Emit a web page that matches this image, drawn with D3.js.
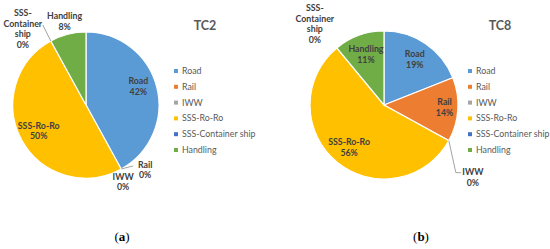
<!DOCTYPE html>
<html>
<head>
<meta charset="utf-8">
<script src="https://cdn.jsdelivr.net/npm/d3@7"></script>
<style>
  body { margin: 0; background: #fff; }
  svg { display: block; }
</style>
</head>
<body>
<div id="chart"></div>
<script>
// Data
const categories = ["Road", "Rail", "IWW", "SSS-Ro-Ro", "SSS-Container ship", "Handling"];
const tc2Values = [42, 0, 0, 50, 0, 8];
const tc8Values = [19, 14, 0, 56, 0, 11];
const colors = ["#5B9BD5", "#ED7D31", "#A5A5A5", "#FFC000", "#4472C4", "#70AD47"];
const labelLines = [["Road"], ["Rail"], ["IWW"], ["SSS-Ro-Ro"], ["SSS-", "Container", "ship"], ["Handling"]];

// Layout per panel: label placement for each slice
// "in" = centroid, "out" = outside on mid angle, otherwise offset from slice start point
const panels = [
  {
    title: "TC2", tag: "a", values: tc2Values,
    cx: 86, cy: 105, r: 73, titleX: 205, legendX: 176,
    labels: [
      { mode: "in", dy: -5 },
      { mode: "edge", dx: 24, dy: 1, leader: [[12, -3]] },
      { mode: "edge", dx: 2, dy: 13 },
      { mode: "in" },
      { mode: "edge", dx: -28, dy: -12, leader: [[-8, -16]] },
      { mode: "out", k: 1.18 },
    ],
    tagX: 122,
  },
  {
    title: "TC8", tag: "b", values: tc8Values,
    cx: 384, cy: 105, r: 74, titleX: 500, legendX: 470,
    labels: [
      { mode: "in" },
      { mode: "in", k: 0.82, dy: -1 },
      { mode: "edge", dx: 24, dy: 37, leader: [[7, 32], [12, 32]] },
      { mode: "in" },
      { mode: "edge", dx: -22, dy: -24 },
      { mode: "in", k: 0.72 },
    ],
    tagX: 421,
  },
];

const width = 550;
const height = 249;

const svg = d3
  .select("#chart")
  .append("svg")
  .attr("width", width)
  .attr("height", height)
  .style("font-family", "Lato, 'Open Sans', sans-serif");

const color = d3.scaleOrdinal().domain(categories).range(colors);

const pie = d3
  .pie()
  .sort(null)
  .value((d) => d.value);

panels.forEach((p) => {
  const data = categories.map((c, i) => ({ name: c, value: p.values[i], idx: i }));
  const arcs = pie(data);

  const arc = d3.arc().innerRadius(0).outerRadius(p.r);
  const labelArc = (k) => d3.arc().innerRadius(p.r * k).outerRadius(p.r * k);

  const ctr = svg.append("g").attr("transform", `translate(${p.cx}, ${p.cy})`);

  ctr
    .selectAll("path.slice")
    .data(arcs.filter((d) => d.value > 0))
    .join("path")
    .attr("class", "slice")
    .attr("d", arc)
    .attr("fill", (d) => color(d.data.name))
    .attr("stroke", "#fff")
    .attr("stroke-width", 1.2);

  // labels
  arcs.forEach((d) => {
    const cfg = p.labels[d.data.idx];
    let x, y;
    const edgeX = p.r * Math.sin(d.startAngle);
    const edgeY = -p.r * Math.cos(d.startAngle);
    if (cfg.mode === "in") {
      [x, y] = labelArc(cfg.k || 0.74).centroid(d);
      y += cfg.dy || 0;
    } else if (cfg.mode === "out") {
      [x, y] = labelArc(cfg.k).centroid(d);
    } else {
      x = edgeX + cfg.dx;
      y = edgeY + cfg.dy;
      if (cfg.leader) {
        const pts = [[edgeX, edgeY]].concat(cfg.leader.map((q) => [edgeX + q[0], edgeY + q[1]]));
        ctr
          .append("path")
          .attr("d", d3.line()(pts))
          .attr("fill", "none")
          .attr("stroke", "#8c8c8c")
          .attr("stroke-width", 0.8);
      }
    }
    const lines = labelLines[d.data.idx].concat([`${d.data.value}%`]);
    const lh = 10.8;
    const t = ctr
      .append("text")
      .attr("text-anchor", "middle")
      .attr("font-size", "8.8px")
      .attr("font-weight", "bold")
      .attr("fill", "#404040");
    lines.forEach((ln, j) => {
      t.append("tspan")
        .attr("x", x)
        .attr("y", y - ((lines.length - 1) * lh) / 2 + j * lh + 3)
        .text(ln);
    });
  });

  // title
  svg
    .append("text")
    .attr("x", p.titleX)
    .attr("y", 30)
    .attr("text-anchor", "middle")
    .attr("font-size", "12.5px")
    .attr("font-weight", "bold")
    .attr("fill", "#595959")
    .text(p.title);

  // legend
  const legend = svg
    .append("g")
    .attr("transform", `translate(${p.legendX}, 71)`);
  const row = legend
    .selectAll("g")
    .data(categories)
    .join("g")
    .attr("transform", (d, i) => `translate(0, ${i * 15.8})`);
  row
    .append("rect")
    .attr("x", -2)
    .attr("y", -2)
    .attr("width", 4)
    .attr("height", 4)
    .attr("fill", (d) => color(d));
  row
    .append("text")
    .attr("x", 6)
    .attr("y", 3)
    .attr("font-size", "8.8px")
    .attr("fill", "#595959")
    .text((d) => d);

  // panel tag
  const tag = svg
    .append("text")
    .attr("x", p.tagX)
    .attr("y", 241)
    .attr("text-anchor", "middle")
    .attr("font-family", "'Liberation Serif', serif")
    .attr("font-size", "13px")
    .attr("fill", "#000");
  tag.append("tspan").text("(");
  tag.append("tspan").attr("font-weight", "bold").text(p.tag);
  tag.append("tspan").text(")");
});
</script>
</body>
</html>
